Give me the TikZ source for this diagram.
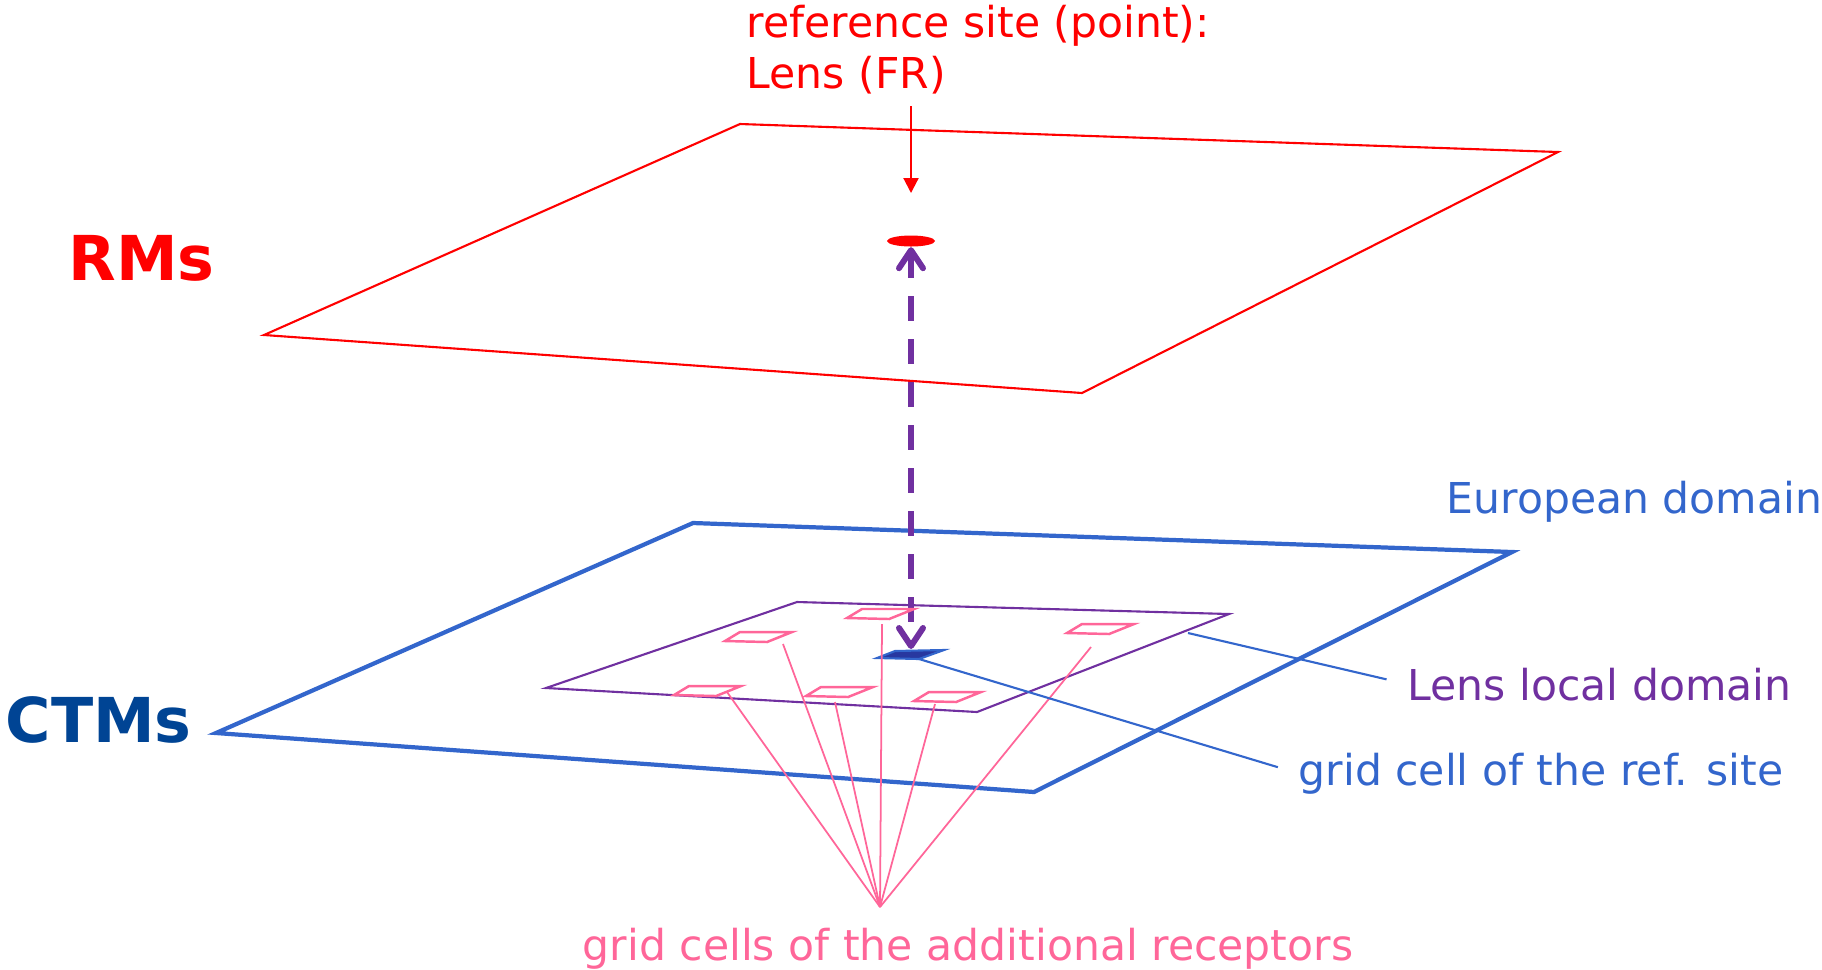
\documentclass[tikz,border=0pt]{standalone}
\usepackage{fontspec}
\setmainfont{DejaVu Sans}
\usetikzlibrary{arrows.meta,shapes.geometric}

\definecolor{rmred}{RGB}{255,0,0}
\definecolor{ctmblue}{RGB}{51,102,204}
\definecolor{ctmdark}{RGB}{0,68,148}
\definecolor{locpurple}{RGB}{112,48,160}
\definecolor{recpink}{RGB}{255,102,153}
\definecolor{cellfill}{RGB}{40,56,160}

\begin{document}
\begin{tikzpicture}
  [x=0.01cm,y=-0.01cm,
   every node/.style={inner sep=0pt,font=\fontsize{12.1}{14.5}\selectfont},
   big/.style={font=\fontsize{17.6}{21}\selectfont\bfseries,anchor=base west},
   lbl/.style={anchor=base west},
   rcell/.style={draw=recpink,line width=0.7pt},
   recline/.style={draw=recpink,line width=0.5pt},
   leader/.style={draw=ctmblue,line width=0.6pt,shorten >=0.21cm},
   barb/.style={Straight Barb[round,length=0.18cm,width=0.24cm]}]
  \useasboundingbox (0,0) rectangle (1822,969);

  % planes
  \draw[rmred,line width=0.6pt] (740,124) -- (1558,152) -- (1082,393) -- (264,335) -- cycle;
  \draw[ctmblue,line width=1.2pt] (693,523) -- (1512,552) -- (1034,792) -- (216,733) -- cycle;
  \draw[locpurple,line width=0.6pt] (797,602) -- (1229,614) -- (977,712) -- (546,688) -- cycle;

  % labels
  \node[big,text=rmred] (rms) at (68,280) {RMs};
  \node[big,text=ctmdark] (ctms) at (5,742) {CTMs};
  \node[anchor=north west,align=left,text=rmred] (site) at (746,4)
    {reference site (point):\\Lens (FR)};
  \node[lbl,text=ctmblue] (eu) at (1446,513) {European domain};
  \node[lbl,text=locpurple] (loc) at (1407,700) {Lens local domain};
  \node[lbl,text=ctmblue] (gcell) at (1298,785) {grid cell of the ref. site};
  \node[anchor=base,text=recpink] (rec) at (968,960) {grid cells of the additional receptors};

  % reference point and its grid cell
  \node[ellipse,fill=rmred,minimum width=0.48cm,minimum height=0.11cm] (refpt) at (911,241) {};
  \filldraw[draw=ctmblue,fill=cellfill,line width=0.6pt]
    (877,658) -- (895,651) -- (944,650) -- (919,659) -- cycle;
  \coordinate (cellc) at (911,649);
  \coordinate (refcell) at (919,659);

  \coordinate (ptrtop) at (911,106);
  \coordinate (ptrtip) at (911,193);
  \draw[rmred,line width=0.6pt,-{Triangle[length=0.15cm,width=0.15cm]}] (ptrtop) -- (ptrtip);

  \draw[locpurple,line width=1.7pt,dash pattern=on 0.25cm off 0.18cm,
        {Straight Barb[round,length=0.18cm,width=0.24cm]}-{Straight Barb[round,length=0.18cm,width=0.24cm]}]
    (refpt.south) -- (cellc);

  % receptor cells
  \foreach \cx/\cy in {740/632, 862/609, 1082/624, 689/686, 821/687, 929/692}
    \draw[rcell] (\cx,\cy) -- ++(52,0) -- ++(-25,10) -- ++(-42,-1) -- cycle;

  \coordinate (rx) at (880,907);
  \coordinate (c1) at (727,692);
  \coordinate (c2) at (783,644);
  \coordinate (c3) at (835,702);
  \coordinate (c4) at (882,624);
  \coordinate (c5) at (935,704);
  \coordinate (c6) at (1091,647);
  \foreach \i in {1,...,6}
    \draw[recline] (c\i) -- (rx);

  % leaders
  \coordinate (lldp) at (1188,633);
  \draw[leader] (lldp) -- (loc.west);
  \draw[leader] (refcell) -- (gcell.west);

\end{tikzpicture}
\end{document}
